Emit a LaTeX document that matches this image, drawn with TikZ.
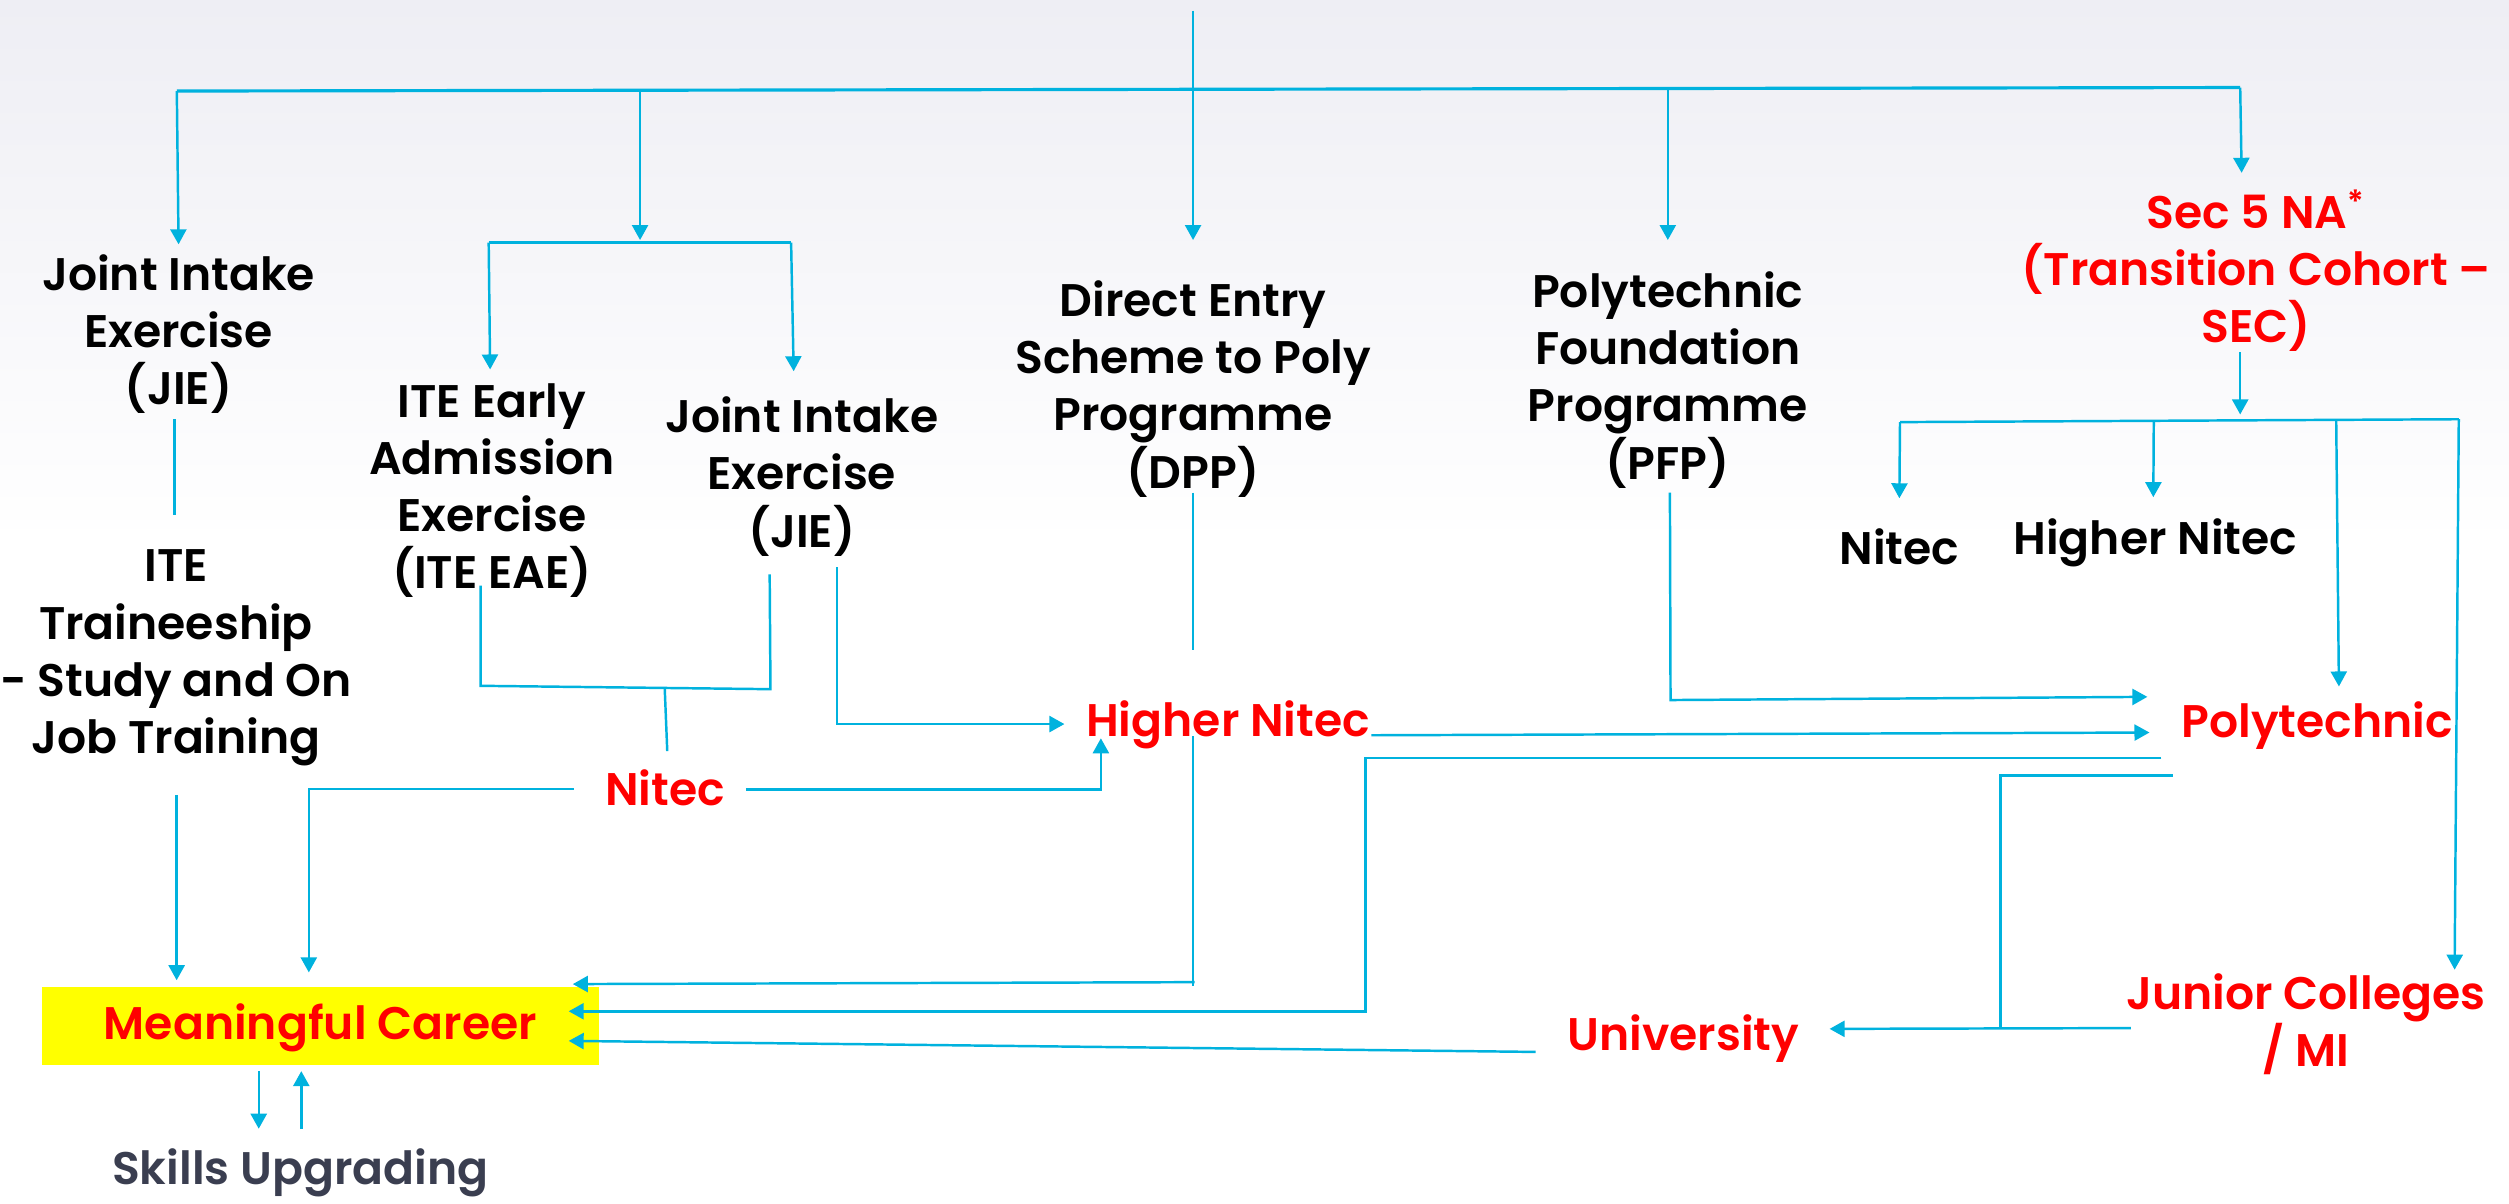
\documentclass[tikz,border=0pt]{standalone}
\usepackage{fontspec}
\setmainfont{Poppins}[BoldFont={Poppins SemiBold}]
\usetikzlibrary{arrows.meta}
\definecolor{lineblue}{RGB}{0,178,222}
\definecolor{labelred}{RGB}{255,0,0}
\definecolor{careeryellow}{RGB}{255,255,0}
\definecolor{skillgray}{RGB}{58,62,80}
\definecolor{bgtop}{RGB}{238,238,244}
\tikzstyle{flow} = [draw=lineblue, line width=0.7pt]
\tikzstyle{arrow} = [flow, -{Triangle[length=1.5mm,width=1.6mm]}]
\tikzstyle{stage} = [align=center, inner sep=0pt, anchor=base, font=\fontsize{13}{16.3}\selectfont\bfseries]
\tikzstyle{redstage} = [stage, text=labelred]

\begin{document}
\begin{tikzpicture}[x=0.016cm, y=-0.016cm]
            % background
            \useasboundingbox (0,0) rectangle (1568,752);
            \fill[white] (0,0) rectangle (1568,752);
            \shade[top color=bgtop, bottom color=white] (0,0) rectangle (1568,340);

            % entry routes (placed at the baseline of their last line)
            \node[stage] (jieL) at (111.6,253) {Joint Intake\\Exercise\\(JIE)};
            \node[stage] (ite) at (110,471) {ITE\\Traineeship\\- Study and On\\Job Training};
            \node[stage] (eae) at (307.5,368) {ITE Early\\Admission\\Exercise\\(ITE EAE)};
            \node[stage] (jieR) at (501,342) {Joint Intake\\Exercise\\(JIE)};
            \node[stage] (dpp) at (745.6,305) {Direct Entry\\Scheme to Poly\\Programme\\(DPP)};
            \node[stage] (pfp) at (1042.3,299.4) {Polytechnic\\Foundation\\Programme\\(PFP)};
            \node[redstage] (sec) at (1410,214.3) {Sec 5 NA\textsuperscript{*}\\(Transition Cohort \textendash\\SEC)};
            \node[stage] (nitecS) at (1187,352.8) {Nitec};
            \node[stage] (hnitecS) at (1347,346.7) {Higher Nitec};

            % outcomes
            \node[redstage] (nitec) at (415.5,503.4) {Nitec};
            \node[redstage] (hnitec) at (767.5,460.3) {Higher Nitec};
            \node[redstage] (poly) at (1448,460.6) {Polytechnic};
            \node[redstage] (jc) at (1441,666.6) {Junior Colleges\\/ MI};
            \node[redstage] (univ) at (1052,656.5) {University};
            \node[redstage, anchor=center, fill=careeryellow, minimum width=5.568cm, minimum height=0.774cm,
                  text height=0.9em, text depth=0.15em] (career) at (200.2,641.2) {Meaningful Career};
            \node[stage, text=skillgray] (skills) at (187.7,740.4) {Skills Upgrading};

            % top tree
            \coordinate (root) at (745.6,6.7);
            \coordinate (busL) at (110.5,56.9);
            \coordinate (busR) at (1400,54.7);
            \coordinate (forkL) at (305.4,151.6);
            \coordinate (forkR) at (494.4,151.6);
            \draw[flow, line width=0.9pt] (busL) -- (busR);
            \draw[arrow] (root) -- (dpp.north |- 0,150);
            \draw[arrow] (busL) -- (jieL.north |- 0,152.7);
            \draw[arrow] (400,56.4) -- (400,150);
            \draw[flow] (forkL) -- (forkR);
            \draw[arrow] (forkL) -- (306.3,230.9);
            \draw[arrow] (forkR) -- (496,232);
            \draw[arrow] (pfp.north |- busR) -- (pfp.north |- 0,150);
            \draw[arrow] (busR) -- (1400.9,108);

            % Sec 5 NA tree
            \coordinate (secOut) at (1400,220);
            \coordinate (sbusL) at (1187.4,263.8);
            \coordinate (sbusR) at (1536.6,262);
            \draw[arrow] (secOut) -- (1400,259);
            \draw[flow] (sbusL) -- (sbusR);
            \draw[arrow] (sbusL) -- (nitecS.north |- 0,311.4);
            \draw[arrow] (1346,263.3) -- (1345.7,310.7);
            \draw[arrow] (1460,262.5) -- (1461.7,429);
            \draw[arrow] (sbusR) -- (1534,606);

            % ITE routes
            \draw[flow] (109,262) -- (109,322);
            \draw[arrow] (110.4,496.7) -- (110.4,612.6);
            \draw[flow] (300.4,366) -- (300.4,428.6) -- (481.5,430.7) -- (481,359);
            \draw[flow] (415.4,429.8) -- (417,469.4);
            \draw[arrow] (523,354.5) |- (665.2,452.5);
            \draw[arrow] (358.7,493) -| (193,607.7);
            \draw[arrow] (466.2,493.3) -| (688,461.4);

            % poly routes
            \draw[flow] (745.6,307.8) -- (745.6,406.3);
            \draw[flow] (745.6,460) -- (745.6,616);
            \draw[arrow] (746.6,613.8) -- (358,615);
            \draw[arrow] (857,459.5) -- (1343.3,457.8);
            \draw[arrow] (1043.6,307.8) -- (1044,437.5) -- (1342,435.5);
            \draw[arrow] (1350.8,473.7) -| (853.3,632) -- (355.4,632);
            \draw[flow] (1357.8,484.7) -| (1250.2,643);
            \draw[arrow] (1331.6,642.5) -- (1143.4,643);
            \draw[arrow] (959.7,657.4) -- (355.4,650.5);

            % skills loop
            \draw[arrow] (161.7,669.4) -- (161.7,705.4);
            \draw[arrow] (188.3,705.6) -- (188.3,669.4);
        \end{tikzpicture}
\end{document}
